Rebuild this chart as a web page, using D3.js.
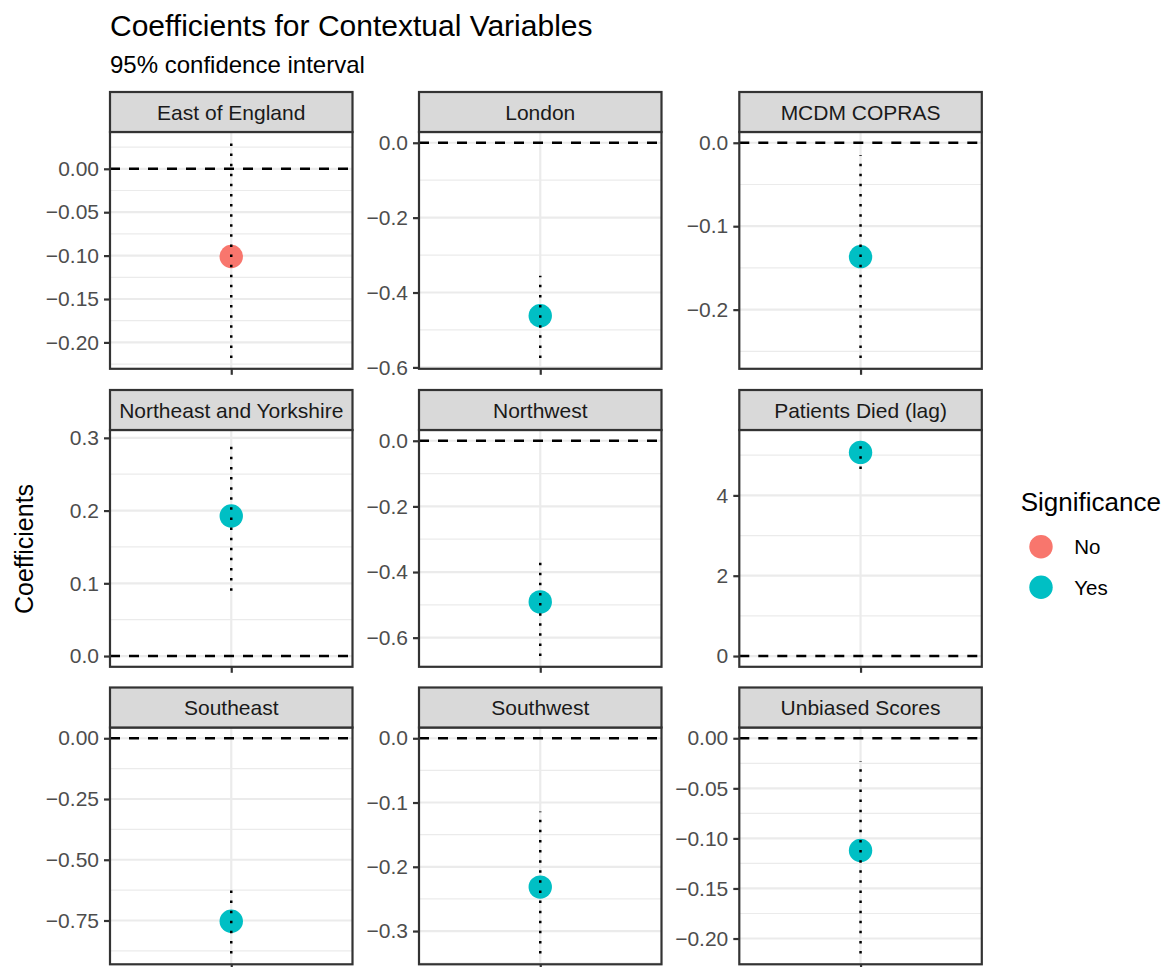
<!DOCTYPE html>
<html>
<head>
<meta charset="utf-8">
<script src="https://cdn.jsdelivr.net/npm/d3@7"></script>
<style>
  html, body { margin: 0; padding: 0; background: #ffffff; }
  svg { display: block; }
  text { font-family: "Liberation Sans", Arial, Helvetica, sans-serif; }
</style>
</head>
<body>
<svg id="chart" width="1164" height="967"></svg>
<script>
// ---------------- data ----------------
const variables = ["East of England", "London", "MCDM COPRAS",
                   "Northeast and Yorkshire", "Northwest", "Patients Died (lag)",
                   "Southeast", "Southwest", "Unbiased Scores"];
const estimates = [-0.101, -0.462, -0.1365, 0.1925, -0.491, 5.07, -0.753, -0.2316, -0.112];
const ciLower   = [-0.218, -0.575, -0.258, 0.0899, -0.656, 4.658, -0.886, -0.335, -0.215];
const ciUpper   = [0.030, -0.355, -0.015, 0.296, -0.370, 5.36, -0.625, -0.114, -0.023];
const significance = ["No", "Yes", "Yes", "Yes", "Yes", "Yes", "Yes", "Yes", "Yes"];
const tickValues = [
  [0, -0.05, -0.10, -0.15, -0.20],
  [0, -0.2, -0.4, -0.6],
  [0, -0.1, -0.2],
  [0, 0.1, 0.2, 0.3],
  [0, -0.2, -0.4, -0.6],
  [0, 2, 4],
  [0, -0.25, -0.50, -0.75],
  [0, -0.1, -0.2, -0.3],
  [0, -0.05, -0.10, -0.15, -0.20]
];
const tickFormats = [".2f", ".1f", ".1f", ".1f", ".1f", "d", ".2f", ".1f", ".2f"];
const legendLevels = ["No", "Yes"];
const legendColors = ["#F8766D", "#00BFC4"];
const titleText = "Coefficients for Contextual Variables";
const subtitleText = "95% confidence interval";
const yAxisTitle = "Coefficients";
const legendTitle = "Significance";

// ---------------- layout ----------------
const colX = [110, 419, 739.3];
const rowY = [92, 390, 687.5];
const panelW = 242.5, stripH = 40, plotH = 236.8;
const tickLen = 6;

const svg = d3.select("#chart");
const color = d3.scaleOrdinal().domain(legendLevels).range(legendColors);

// titles
svg.append("text").attr("x", 110).attr("y", 36)
  .attr("font-size", 30).attr("fill", "#000").text(titleText);
svg.append("text").attr("x", 110).attr("y", 73)
  .attr("font-size", 24).attr("fill", "#000").text(subtitleText);
svg.append("text")
  .attr("transform", "translate(33,549) rotate(-90)")
  .attr("text-anchor", "middle")
  .attr("font-size", 25).attr("fill", "#000").text(yAxisTitle);

const defs = svg.append("defs");

variables.forEach((name, i) => {
  const col = i % 3, row = Math.floor(i / 3);
  const x0 = colX[col], sy = rowY[row], py = sy + stripH;

  // ggplot-like domain: data + 0 line, expanded by 5%
  const lo = Math.min(ciLower[i], 0), hi = Math.max(ciUpper[i], 0);
  const pad = (hi - lo) * 0.05;
  const y = d3.scaleLinear().domain([lo - pad, hi + pad]).range([py + plotH, py]);
  const x = d3.scalePoint().domain([name]).range([x0, x0 + panelW]).padding(0.5);

  const g = svg.append("g");
  defs.append("clipPath").attr("id", "clip" + i)
    .append("rect").attr("x", x0).attr("y", py).attr("width", panelW).attr("height", plotH);

  const pg = g.append("g").attr("clip-path", `url(#clip${i})`);
  pg.append("rect").attr("x", x0).attr("y", py).attr("width", panelW).attr("height", plotH).attr("fill", "#fff");

  // minor gridlines
  const tv = tickValues[i].slice().sort((a, b) => a - b);
  const step = tv[1] - tv[0];
  const minors = [];
  for (let k = -1; k < tv.length; k++) {
    const m = tv[0] + step * (k + 0.5);
    const [d0, d1] = y.domain();
    if (m >= d0 && m <= d1) minors.push(m);
  }
  pg.selectAll(".minor").data(minors).join("line")
    .attr("x1", x0).attr("x2", x0 + panelW)
    .attr("y1", d => y(d)).attr("y2", d => y(d))
    .attr("stroke", "#EBEBEB").attr("stroke-width", 1.2);
  // major gridlines
  pg.selectAll(".major").data(tv).join("line")
    .attr("x1", x0).attr("x2", x0 + panelW)
    .attr("y1", d => y(d)).attr("y2", d => y(d))
    .attr("stroke", "#EBEBEB").attr("stroke-width", 2.2);
  pg.append("line")
    .attr("x1", x(name)).attr("x2", x(name)).attr("y1", py).attr("y2", py + plotH)
    .attr("stroke", "#EBEBEB").attr("stroke-width", 2.2);

  // reference line at 0
  pg.append("line")
    .attr("x1", x0).attr("x2", x0 + panelW)
    .attr("y1", y(0)).attr("y2", y(0))
    .attr("stroke", "#000").attr("stroke-width", 2.5)
    .attr("stroke-dasharray", "10,9");

  // point
  pg.append("circle")
    .attr("cx", x(name)).attr("cy", y(estimates[i])).attr("r", 11.7)
    .attr("fill", color(significance[i]));

  // CI (dotted), drawn from lower to upper
  pg.append("line")
    .attr("x1", x(name)).attr("x2", x(name))
    .attr("y1", y(ciLower[i])).attr("y2", y(ciUpper[i]))
    .attr("stroke", "#000").attr("stroke-width", 2.5)
    .attr("stroke-dasharray", "2.5,7.6");

  // panel border
  g.append("rect").attr("x", x0).attr("y", py).attr("width", panelW).attr("height", plotH)
    .attr("fill", "none").attr("stroke", "#333333").attr("stroke-width", 2.2);

  // strip
  g.append("rect").attr("x", x0).attr("y", sy).attr("width", panelW).attr("height", stripH)
    .attr("fill", "#D9D9D9").attr("stroke", "#333333").attr("stroke-width", 2.2);
  g.append("text").attr("x", x0 + panelW / 2).attr("y", sy + stripH / 2 + 7.5)
    .attr("text-anchor", "middle").attr("font-size", 21).attr("fill", "#1A1A1A").text(name);

  // y axis
  const fmt = d3.format(tickFormats[i]);
  const yAxis = d3.axisLeft(y).tickValues(tickValues[i]).tickFormat(fmt)
    .tickSize(tickLen).tickPadding(5);
  const ag = g.append("g").attr("transform", `translate(${x0},0)`).call(yAxis);
  ag.select(".domain").remove();
  ag.selectAll(".tick line").attr("stroke", "#333333").attr("stroke-width", 2.2);
  ag.selectAll(".tick text").attr("font-size", 21).attr("fill", "#4D4D4D")
    .attr("font-family", "'Liberation Sans', Arial, sans-serif");

  // x axis (ticks only, no labels)
  const xAxis = d3.axisBottom(x).tickSize(tickLen).tickFormat("");
  const xg = g.append("g").attr("transform", `translate(0,${py + plotH})`).call(xAxis);
  xg.select(".domain").remove();
  xg.selectAll(".tick line").attr("stroke", "#333333").attr("stroke-width", 2.2);
});

// legend
const lg = svg.append("g");
lg.append("text").attr("x", 1020.7).attr("y", 510.7)
  .attr("font-size", 26).attr("fill", "#000").text(legendTitle);
legendLevels.forEach((lev, k) => {
  const cy = 546.7 + k * 40.6;
  lg.append("circle").attr("cx", 1041).attr("cy", cy).attr("r", 11.7).attr("fill", color(lev));
  lg.append("text").attr("x", 1074.3).attr("y", cy + 7.3)
    .attr("font-size", 20.5).attr("fill", "#000").text(lev);
});
</script>
</body>
</html>
